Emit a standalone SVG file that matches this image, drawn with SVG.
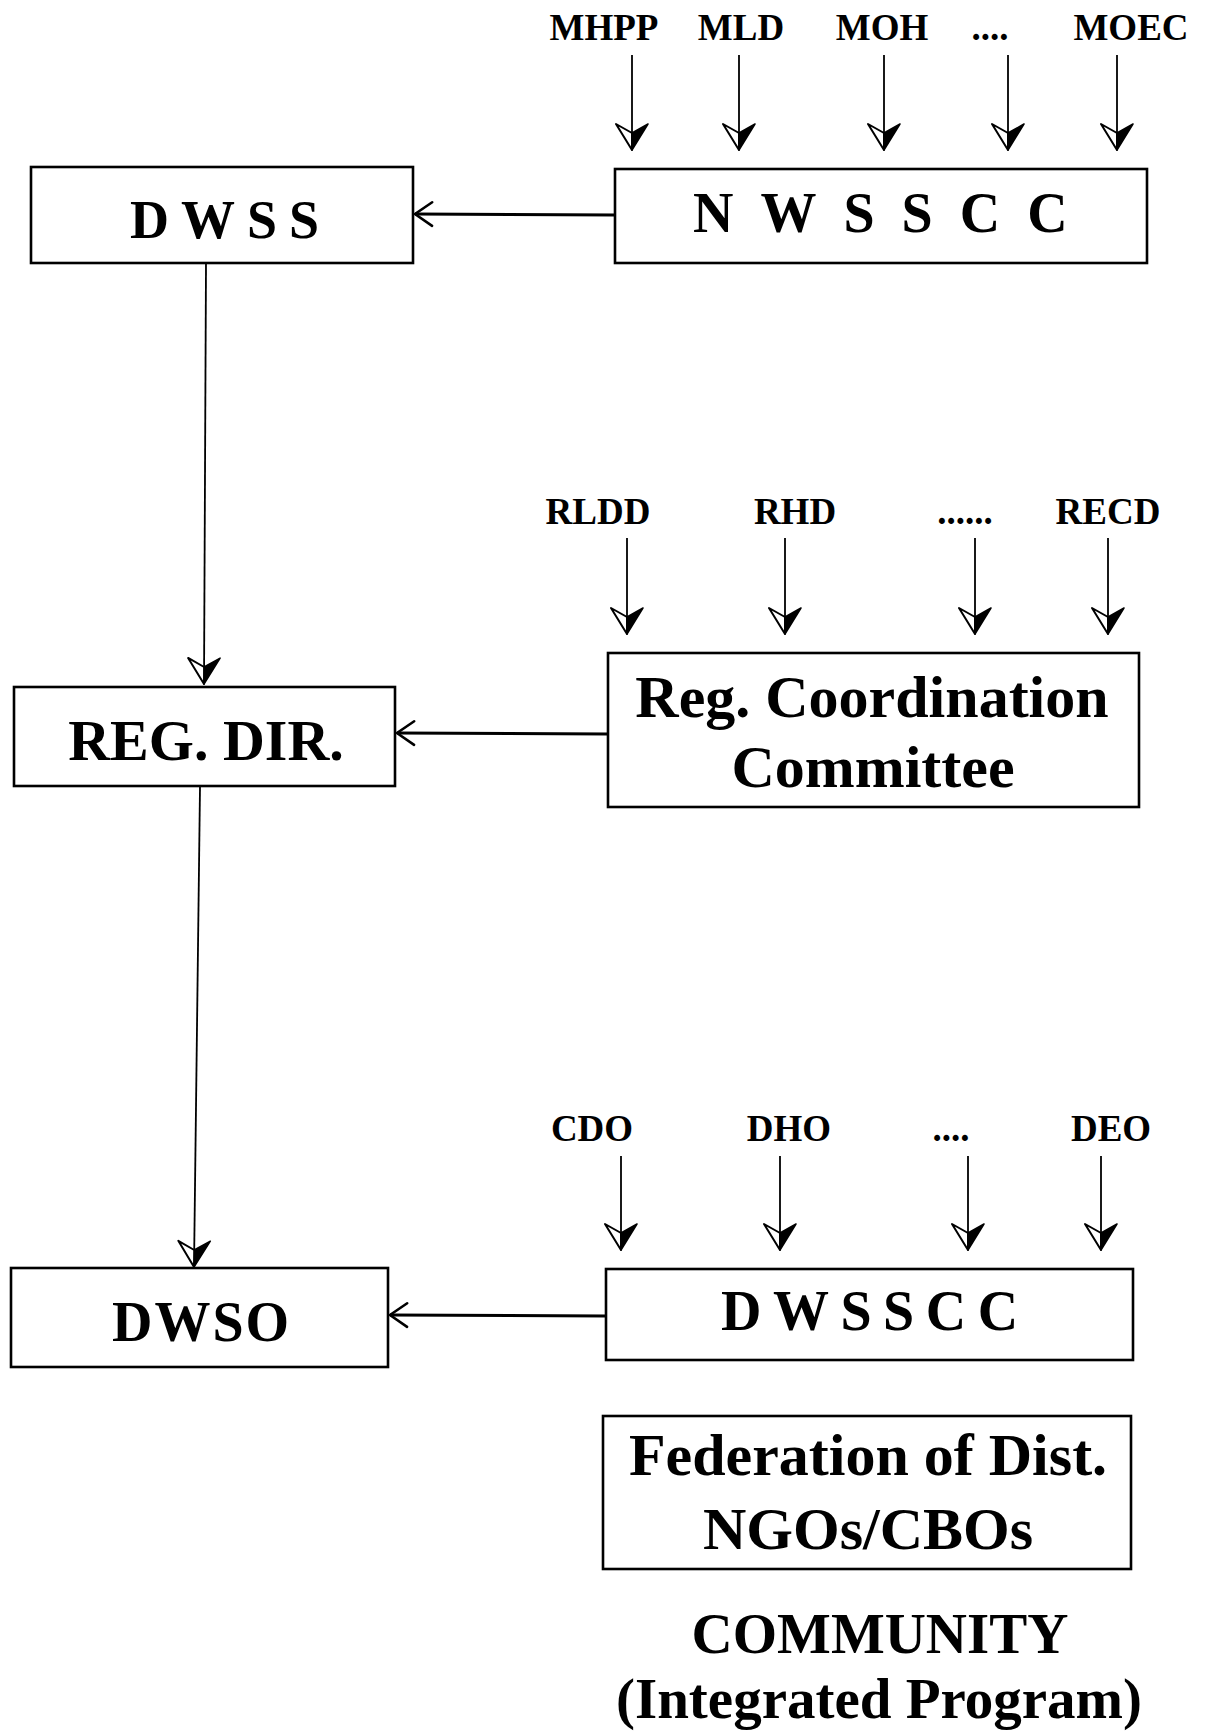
<svg xmlns="http://www.w3.org/2000/svg" xmlns:xlink="http://www.w3.org/1999/xlink" width="1208" height="1733" viewBox="0 0 1208 1733">
<style>
  text { font-family: "Liberation Serif", "Times New Roman", serif; font-weight: bold; fill: #000; }
  .box { fill: #fff; stroke: #000; stroke-width: 2.6; }
  .lbl { font-size: 37px; text-anchor: middle; }
  .big { font-size: 60px; text-anchor: middle; }
  .con { stroke: #000; stroke-width: 1.8; fill: none; }
  .hcon { stroke: #000; stroke-width: 3; fill: none; }
</style>
<defs>
  <marker id="down" markerUnits="userSpaceOnUse" orient="auto" markerWidth="40" markerHeight="40" refX="0" refY="0" viewBox="-30 -20 34 40" overflow="visible">
    <path d="M0,0 L-26,-16 L-17,0 Z" fill="#000" stroke="#000" stroke-width="1.5" stroke-linejoin="round"/>
    <path d="M0,0 L-17,0 L-26,16 Z" fill="#fff" stroke="#000" stroke-width="2" stroke-linejoin="round"/>
  </marker>
  <marker id="open" markerUnits="userSpaceOnUse" orient="auto" markerWidth="30" markerHeight="30" refX="0" refY="0" viewBox="-20 -14 24 28" overflow="visible">
    <path d="M-16,-11 L0,0 L-16,11" fill="none" stroke="#000" stroke-width="2.4" stroke-linecap="round"/>
  </marker>
</defs>

<g id="connectors">
  <!-- ministry inputs to NWSSCC -->
  <line class="con" x1="632" y1="55" x2="632" y2="150" marker-end="url(#down)"/>
  <line class="con" x1="739" y1="55" x2="739" y2="150" marker-end="url(#down)"/>
  <line class="con" x1="884" y1="55" x2="884" y2="150" marker-end="url(#down)"/>
  <line class="con" x1="1008" y1="55" x2="1008" y2="150" marker-end="url(#down)"/>
  <line class="con" x1="1117" y1="55" x2="1117" y2="150" marker-end="url(#down)"/>
  <!-- regional inputs -->
  <line class="con" x1="627" y1="538" x2="627" y2="634" marker-end="url(#down)"/>
  <line class="con" x1="785" y1="538" x2="785" y2="634" marker-end="url(#down)"/>
  <line class="con" x1="975" y1="538" x2="975" y2="634" marker-end="url(#down)"/>
  <line class="con" x1="1108" y1="538" x2="1108" y2="634" marker-end="url(#down)"/>
  <!-- district inputs -->
  <line class="con" x1="621" y1="1156" x2="621" y2="1250" marker-end="url(#down)"/>
  <line class="con" x1="780" y1="1156" x2="780" y2="1250" marker-end="url(#down)"/>
  <line class="con" x1="968" y1="1156" x2="968" y2="1250" marker-end="url(#down)"/>
  <line class="con" x1="1101" y1="1156" x2="1101" y2="1250" marker-end="url(#down)"/>
  <!-- vertical hierarchy -->
  <line class="con" x1="206" y1="264" x2="204" y2="684" marker-end="url(#down)"/>
  <line class="con" x1="200" y1="787" x2="194" y2="1267" marker-end="url(#down)"/>
  <!-- horizontal links -->
  <line class="hcon" x1="615" y1="215" x2="415" y2="214" marker-end="url(#open)"/>
  <line class="hcon" x1="608" y1="734" x2="397" y2="733" marker-end="url(#open)"/>
  <line class="hcon" x1="606" y1="1316" x2="390" y2="1315" marker-end="url(#open)"/>
</g>

<g id="labels-national">
  <text class="lbl" x="604" y="40">MHPP</text>
  <text class="lbl" x="741" y="40">MLD</text>
  <text class="lbl" x="882" y="40">MOH</text>
  <text class="lbl" x="990" y="40">....</text>
  <text class="lbl" x="1131" y="40">MOEC</text>
</g>
<g id="labels-regional">
  <text class="lbl" x="598" y="524">RLDD</text>
  <text class="lbl" x="795" y="524">RHD</text>
  <text class="lbl" x="965" y="524">......</text>
  <text class="lbl" x="1108" y="524">RECD</text>
</g>
<g id="labels-district">
  <text class="lbl" x="592" y="1141">CDO</text>
  <text class="lbl" x="789" y="1141">DHO</text>
  <text class="lbl" x="951" y="1141">....</text>
  <text class="lbl" x="1111" y="1141">DEO</text>
</g>

<g id="dwss">
  <rect class="box" x="31" y="167" width="382" height="96"/>
  <text x="130" y="238" style="font-size:54px; letter-spacing:12px">DWSS</text>
</g>
<g id="nwsscc">
  <rect class="box" x="615" y="169" width="532" height="94"/>
  <text x="693" y="232" style="font-size:56px; letter-spacing:27px">NWSSCC</text>
</g>
<g id="regdir">
  <rect class="box" x="14" y="687" width="381" height="99"/>
  <text x="206" y="760" style="font-size:58px; text-anchor:middle">REG. DIR.</text>
</g>
<g id="regcoord">
  <rect class="box" x="608" y="653" width="531" height="154"/>
  <text class="big" x="872" y="717">Reg. Coordination</text>
  <text class="big" x="873" y="787">Committee</text>
</g>
<g id="dwso">
  <rect class="box" x="11" y="1268" width="377" height="99"/>
  <text x="112" y="1341" style="font-size:56px; letter-spacing:2px">DWSO</text>
</g>
<g id="dwsscc">
  <rect class="box" x="606" y="1269" width="527" height="91"/>
  <text x="721" y="1330" style="font-size:56px; letter-spacing:11.5px">DWSSCC</text>
</g>
<g id="federation">
  <rect class="box" x="603" y="1416" width="528" height="153"/>
  <text class="big" x="868" y="1475">Federation of Dist.</text>
  <text class="big" x="868" y="1549">NGOs/CBOs</text>
</g>
<g id="community">
  <text x="880" y="1653" style="font-size:57px; text-anchor:middle">COMMUNITY</text>
  <text x="879" y="1718" style="font-size:57px; text-anchor:middle">(Integrated Program)</text>
</g>
</svg>
